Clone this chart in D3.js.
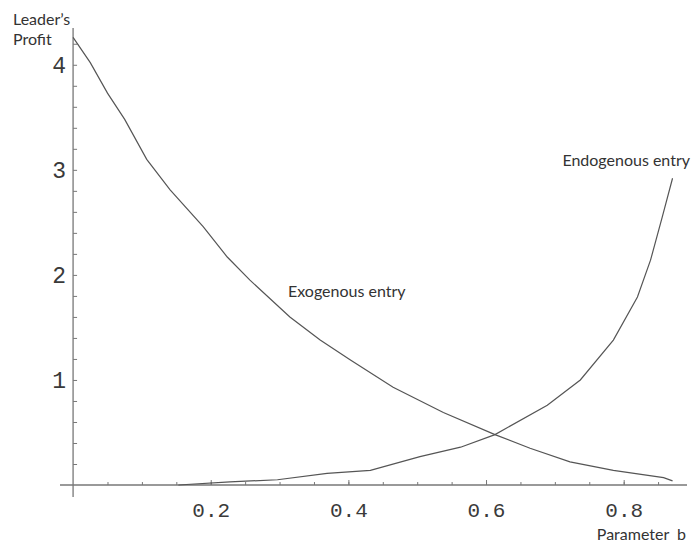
<!DOCTYPE html>
<html>
<head>
<meta charset="utf-8">
<script src="https://cdn.jsdelivr.net/npm/d3@7"></script>
<style>
  body { margin: 0; background: #fff; }
  svg { display: block; }
</style>
</head>
<body>
<script>
// values (b, leader's profit)
var exoB   = [0, 0.025, 0.05, 0.075, 0.107, 0.141, 0.189, 0.224, 0.257, 0.315, 0.359, 0.403, 0.465, 0.538, 0.613, 0.664, 0.722, 0.785, 0.858, 0.871];
var exoVal = [4.26, 4.02, 3.73, 3.48, 3.10, 2.81, 2.46, 2.17, 1.95, 1.60, 1.38, 1.19, 0.93, 0.69, 0.48, 0.35, 0.22, 0.14, 0.07, 0.04];
var endoB   = [0.153, 0.228, 0.297, 0.369, 0.432, 0.504, 0.563, 0.613, 0.689, 0.737, 0.785, 0.820, 0.839, 0.856, 0.871];
var endoVal = [0, 0.03, 0.05, 0.11, 0.14, 0.27, 0.36, 0.48, 0.76, 1.00, 1.38, 1.79, 2.14, 2.55, 2.92];

var xTickLabels = [0.2, 0.4, 0.6, 0.8];
var yTickLabels = [1, 2, 3, 4];
var xMinor = d3.range(1, 18).map(function(i) { return i * 0.05; });
var yMinor = d3.range(1, 22).map(function(i) { return i * 0.2; });

var width = 691, height = 546;

var svg = d3.select('body').append('svg')
  .attr('width', width)
  .attr('height', height);

var x = d3.scaleLinear().domain([-0.019, 0.892]).range([60, 687]);
var y = d3.scaleLinear().domain([-0.114, 4.35]).range([497, 28]);

var axisColor = '#777';
var lineColor = '#555';
var tickFont = 'Liberation Mono, DejaVu Sans Mono, monospace';

// x axis: ticks point upward
var xAxisG = svg.append('g')
  .attr('transform', 'translate(0,' + y(0) + ')');

xAxisG.append('g')
  .call(d3.axisBottom(x).tickValues(xMinor).tickSizeInner(-3).tickSizeOuter(0).tickFormat(''))
  .call(function(g) { g.select('.domain').remove(); })
  .selectAll('line').attr('stroke', axisColor);

xAxisG.append('g')
  .call(d3.axisBottom(x).tickValues(xTickLabels).tickSizeInner(-5).tickSizeOuter(0).tickPadding(17).tickFormat(d3.format('.1f')))
  .call(function(g) {
    g.select('.domain').remove();
    g.selectAll('line').attr('stroke', axisColor);
    g.selectAll('text')
      .attr('font-family', tickFont)
      .attr('font-size', 21)
      .attr('fill', '#3a3a3a');
  });

xAxisG.append('line')
  .attr('x1', x.range()[0]).attr('x2', x.range()[1])
  .attr('stroke', axisColor).attr('stroke-width', 1.3);

// y axis: ticks point right, labels on the left
var yAxisG = svg.append('g')
  .attr('transform', 'translate(' + x(0) + ',0)');

yAxisG.append('g')
  .call(d3.axisRight(y).tickValues(yMinor).tickSizeInner(4).tickSizeOuter(0).tickFormat(''))
  .call(function(g) { g.select('.domain').remove(); })
  .selectAll('line').attr('stroke', axisColor);

yAxisG.append('g')
  .call(d3.axisLeft(y).tickValues(yTickLabels).tickSize(0).tickPadding(7).tickFormat(d3.format('d')))
  .call(function(g) {
    g.select('.domain').remove();
    g.selectAll('text')
      .attr('font-family', tickFont)
      .attr('font-size', 23)
      .attr('fill', '#3a3a3a');
  });

yAxisG.append('line')
  .attr('y1', y.range()[0]).attr('y2', y.range()[1])
  .attr('stroke', axisColor).attr('stroke-width', 1.3);

// curves
var line = d3.line()
  .x(function(d) { return x(d[0]); })
  .y(function(d) { return y(d[1]); });

svg.append('path')
  .datum(d3.zip(exoB, exoVal))
  .attr('d', line)
  .attr('fill', 'none')
  .attr('stroke', lineColor)
  .attr('stroke-width', 1.2);

svg.append('path')
  .datum(d3.zip(endoB, endoVal))
  .attr('d', line)
  .attr('fill', 'none')
  .attr('stroke', lineColor)
  .attr('stroke-width', 1.2);

// labels
var labelFont = 'Lato, Open Sans, sans-serif';

svg.append('text')
  .attr('x', 13).attr('y', 25)
  .attr('font-family', labelFont).attr('font-size', 16).attr('fill', '#333')
  .text('Leader\u2019s');

svg.append('text')
  .attr('x', 13).attr('y', 45)
  .attr('font-family', labelFont).attr('font-size', 16).attr('fill', '#333')
  .text('Profit');

svg.append('text')
  .attr('x', 686).attr('y', 540)
  .attr('text-anchor', 'end')
  .attr('font-family', labelFont).attr('font-size', 16).attr('fill', '#333')
  .attr('word-spacing', 4)
  .text('Parameter b');

svg.append('text')
  .attr('x', 288).attr('y', 297)
  .attr('font-family', labelFont).attr('font-size', 16).attr('fill', '#333')
  .text('Exogenous entry');

svg.append('text')
  .attr('x', 690).attr('y', 166)
  .attr('text-anchor', 'end')
  .attr('font-family', labelFont).attr('font-size', 16).attr('fill', '#333')
  .text('Endogenous entry');
</script>
</body>
</html>
